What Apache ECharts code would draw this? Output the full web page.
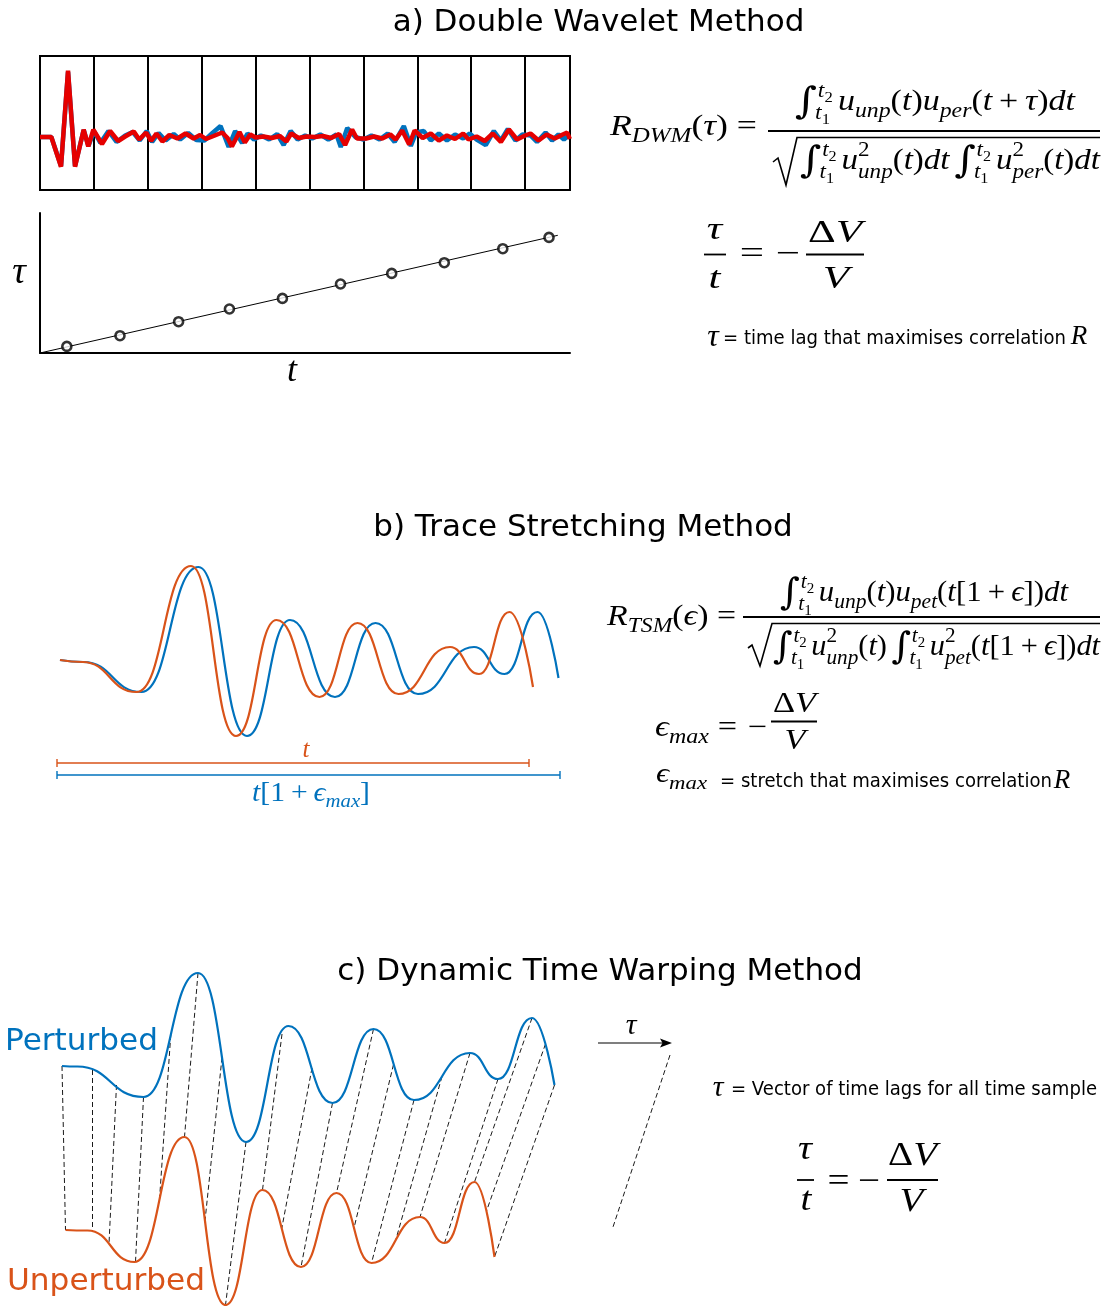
<!DOCTYPE html>
<html><head><meta charset="utf-8">
<script src="https://cdn.jsdelivr.net/npm/echarts@6/dist/echarts.min.js"></script>
<style>html,body{margin:0;padding:0;background:#fff}#c{width:1114px;height:1306px}</style>
</head><body><div id="c"></div>
<script>
// ---------------- DATA ----------------
// a) windows: [time in window units, amplitude]
const windowRed = [[0,0],[0.21,0],[0.39,-2.97],[0.52,6.63],[0.65,-2.97],[0.81,0.73],[0.895,-0.93],[0.99,0.73],
 [1.15,-0.7],[1.3,0.6],[1.45,-0.4],[1.58,0.05],[1.74,0.55],[1.84,-0.25],[1.97,0.45],
 [2.06,-0.4],[2.16,0.35],[2.27,-0.45],[2.4,0.2],[2.55,-0.15],[2.7,0.35],[2.85,-0.15],[2.97,0.2],
 [3.08,-0.2],[3.22,0.1],[3.38,0.45],[3.48,-0.1],[3.56,-0.95],[3.7,0.5],[3.8,-0.55],[3.9,0.25],[4.0,-0.05],
 [4.15,0.05],[4.3,-0.1],[4.45,0.1],[4.57,-0.45],[4.66,0.35],[4.8,-0.1],[4.95,0.05],
 [5.1,0],[5.25,0.1],[5.4,-0.1],[5.55,0.3],[5.66,-0.8],[5.79,0.75],[5.88,-0.15],
 [6.05,-0.15],[6.2,0.05],[6.35,-0.15],[6.5,0.25],[6.6,-0.25],[6.72,0.65],[6.85,-0.75],[6.95,0.65],[7.1,-0.1],
 [7.25,0.35],[7.4,-0.35],[7.55,0.15],[7.7,-0.2],[7.85,0.35],[7.95,-0.25],
 [8.1,0.05],[8.25,-0.4],[8.4,0.35],[8.55,-0.5],[8.7,0.75],[8.85,-0.25],[9.0,0.15],
 [9.1,0.35],[9.25,-0.35],[9.4,0.25],[9.55,-0.15],[9.7,0.25],[9.78,0.45],[9.83,-0.2]];
const windowBlue = [[0,0],[0.21,0],[0.39,-2.9],[0.52,6.5],[0.65,-2.9],[0.81,0.7],[0.9,-0.9],[1.0,0.6],
 [1.12,-0.6],[1.27,0.6],[1.42,-0.5],[1.58,0.15],[1.72,0.5],[1.85,-0.35],[1.98,0.6],
 [2.08,-0.5],[2.2,0.4],[2.33,-0.35],[2.48,0.3],[2.6,-0.25],[2.75,0.4],[2.9,-0.3],
 [3.05,-0.35],[3.2,0.4],[3.35,1.1],[3.5,-1.0],[3.62,0.6],[3.75,-0.6],[3.85,0.35],[3.97,-0.25],
 [4.1,0.15],[4.25,-0.25],[4.4,0.3],[4.52,-0.8],[4.65,0.6],[4.78,-0.25],[4.92,0.15],
 [5.05,-0.15],[5.2,0.25],[5.35,-0.25],[5.5,0.25],[5.58,-1.0],[5.7,0.9],[5.85,0],
 [6.0,-0.25],[6.15,0.15],[6.3,-0.25],[6.45,0.35],[6.58,-0.5],[6.75,1.1],[6.88,-0.9],[6.98,0.45],
 [7.12,0.6],[7.25,-0.35],[7.4,0.35],[7.55,-0.35],[7.7,0.25],[7.85,-0.15],[7.97,0.35],
 [8.1,-0.25],[8.27,-0.8],[8.42,0.6],[8.55,-0.35],[8.68,0.8],[8.82,-0.35],[8.95,0.25],
 [9.1,0.15],[9.22,-0.5],[9.38,0.45],[9.5,-0.35],[9.62,0.25],[9.72,-0.25],[9.8,0.15]];
// a) measured lag per window
const lagT   = [0.506,1.509,2.615,3.574,4.574,5.670,6.636,7.628,8.732,9.604];
const lagTau = [0.66,1.73,3.13,4.40,5.46,6.90,7.96,9.03,10.43,11.56];
const lagFit = [[0,0],[9.77,11.77]];
// b) trace stretching: start, extrema, end [t, u]
const stretchUnp = [[0,0],[0.45,-0.02],[1.53,-0.32],[2.62,0.94],[3.52,-0.76],[4.33,0.40],[5.19,-0.37],[5.95,0.37],[6.77,-0.34],[7.80,0.13],[8.38,-0.14],[8.99,0.48],[9.46,-0.27]];
const stretchPer = [[0,0],[0.47,-0.02],[1.63,-0.32],[2.77,0.93],[3.74,-0.76],[4.60,0.40],[5.50,-0.37],[6.31,0.37],[7.16,-0.34],[8.28,0.13],[8.89,-0.14],[9.55,0.48],[9.97,-0.18]];
const spanUnp = [[-0.06,-1.03],[9.38,-1.03]];
const spanPer = [[-0.06,-1.15],[10.0,-1.15]];
// c) dynamic time warping: start, extrema, end [t, u]
const dtwPer = [[1.24,2.40],[1.55,2.395],[2.87,2.09],[3.96,3.33],[4.92,1.64],[5.77,2.80],[6.65,2.03],[7.47,2.77],[8.28,2.06],[9.40,2.53],[9.96,2.27],[10.64,2.88],[11.09,2.21]];
const dtwUnp = [[1.31,0.76],[1.75,0.755],[2.69,0.44],[3.69,1.69],[4.51,0.01],[5.25,1.16],[6.02,0.39],[6.73,1.13],[7.43,0.43],[8.40,0.89],[8.89,0.63],[9.49,1.24],[9.89,0.49]];
const dtwLinks = [
 [[1.24,2.40],[1.31,0.76]],[[1.85,2.36],[1.85,0.745]],[[2.33,2.21],[2.18,0.62]],[[2.87,2.09],[2.71,0.44]],
 [[3.415,2.71],[3.19,1.065]],[[3.96,3.33],[3.69,1.69]],[[4.44,2.485],[4.10,0.85]],[[4.92,1.64],[4.51,0.01]],
 [[5.64,2.72],[5.25,1.16]],[[6.24,2.38],[5.635,0.775]],[[6.65,2.03],[6.02,0.39]],[[7.47,2.77],[6.73,1.13]],
 [[7.87,2.415],[7.08,0.78]],[[8.28,2.06],[7.43,0.43]],[[8.84,2.295],[7.915,0.66]],[[9.40,2.53],[8.40,0.89]],
 [[9.96,2.27],[8.89,0.63]],[[10.64,2.88],[9.49,1.24]],[[10.91,2.62],[9.73,0.95]],[[11.09,2.21],[9.89,0.49]]];

// ---------------- STYLE ----------------
const BLUE = '#0072BD', ORANGE = '#D95319', RED = '#E50000';
const MF = '"Liberation Serif","DejaVu Serif",serif';
const SF = '"DejaVu Sans",sans-serif';
const IF = '"DejaVu Serif",serif';

// --------- math text layout helpers ---------
const mc = document.createElement('canvas').getContext('2d');
function fnt(sz, it, fam) { return (it ? 'italic ' : '') + sz.toFixed(2) + 'px ' + (fam || MF); }
function tw(s, f) { mc.font = f; return mc.measureText(s).width; }
function lay(items, x, yb, sz, col, out) {
  let cx = x;
  for (const it of items) {
    if (typeof it === 'string' || it.r !== undefined) {
      const s = typeof it === 'string' ? it : it.r;
      const f = fnt(sz, typeof it === 'string');
      if (out) out.push({type:'text', x:cx, y:yb - 0.34*sz, silent:true,
        style:{text:s, font:f, fill:col, align:'left', verticalAlign:'middle'}});
      cx += tw(s, f);
    } else if (it.sp) { cx += it.sp*sz; }
    else if (it.sub) { cx += lay(it.sub, cx, yb + 0.22*sz, sz*0.7, col, out); }
    else if (it.sup) { cx += lay(it.sup, cx, yb - 0.4*sz, sz*0.7, col, out); }
    else if (it.ss) {
      const k = (it.k || 0)*sz;
      const a = lay(it.ss[0], cx + k, yb + 0.3*sz, sz*0.7, col, out);
      const b = lay(it.ss[1], cx, yb - 0.47*sz, sz*0.7, col, out);
      cx += Math.max(a + k, b);
    } else if (it.int) {
      const isz = sz*1.25, f = fnt(isz, false, IF), ib = yb + 0.12*sz;
      if (out) out.push({type:'text', x:cx, y:ib - 0.34*isz, silent:true,
        style:{text:'∫', font:f, fill:col, align:'left', verticalAlign:'middle'}});
      cx += tw('∫', f) + 0.02*sz;
    }
  }
  return cx - x;
}
const G = [];
function block(items, xL, xR, yb, sz, col) {
  const w = lay(items, 0, yb, sz, col, null);
  const ch = []; lay(items, 0, yb, sz, col, ch);
  G.push({type:'group', x:xL, y:0, scaleX:(xR - xL)/w, children:ch});
}
function blockC(items, xc, yb, sz, sx, col) {
  const w = lay(items, 0, yb, sz, col, null);
  const ch = []; lay(items, 0, yb, sz, col, ch);
  G.push({type:'group', x:xc - w*sx/2, y:0, scaleX:sx, children:ch});
}
function natW(items, sz) { return lay(items, 0, 0, sz, '#000', null); }
function plain(s, xL, xR, yc, sz, col) {
  const f = sz + 'px ' + SF, w = tw(s, f);
  G.push({type:'group', x:xL, y:0, scaleX: xR ? (xR - xL)/w : 1, children:[
    {type:'text', x:0, y:yc, silent:true, style:{text:s, font:f, fill:col, align:'left', verticalAlign:'middle'}}]});
}
function hline(x1, x2, y, lw, col) {
  G.push({type:'line', silent:true, shape:{x1:x1, y1:y, x2:x2, y2:y}, style:{stroke:col || '#000', lineWidth:lw || 1.8}});
}
function poly(pts, lw) {
  G.push({type:'polyline', silent:true, shape:{points:pts}, style:{stroke:'#000', fill:null, lineWidth:lw || 1.6, lineJoin:'miter'}});
}
function title(s, xc, yc) {
  G.push({type:'text', x:xc, y:yc, silent:true, style:{text:s, font:'31px ' + SF, fill:'#000', align:'center', verticalAlign:'middle'}});
}
const K = '#000';
const LIM = {ss:[['t',{sub:[{r:'1'}]}],['t',{sub:[{r:'2'}]}]], k:-0.08};
const INT = {int:true};

// ---- titles
title('a) Double Wavelet Method', 598.5, 23);
title('b) Trace Stretching Method', 583, 528);
title('c) Dynamic Time Warping Method', 600, 972);

// ---- a) formulas
block(['R',{sub:['DWM']},{r:'('},'τ',{r:')'},{sp:0.25},{r:'='}], 610, 757, 137, 29, K);
block([INT, LIM, {sp:0.15}, 'u',{sub:['unp']},{r:'('},'t',{r:')'},'u',{sub:['per']},{r:'('},'t',{sp:0.2},{r:'+'},{sp:0.2},'τ',{r:')'},'dt'], 795, 1075, 112, 29, K);
hline(768, 1100, 131, 1.8);
poly([[773,162],[778,158],[786,185],[797,137.5],[1100,137.5]], 1.6);
block([INT, LIM, {sp:0.15}, 'u',{ss:[['unp'],[{r:'2'}]]},{r:'('},'t',{r:')'},'dt',{sp:0.15}, INT, LIM, {sp:0.15}, 'u',{ss:[['per'],[{r:'2'}]]},{r:'('},'t',{r:')'},'dt'], 800, 1100, 171, 29, K);

const dvA = 54/natW([{r:'Δ'},'V'], 31);
blockC(['τ'], 714.5, 241, 31, dvA, K);
blockC(['t'], 714.5, 290, 31, dvA, K);
hline(704, 726, 254.5, 1.8);
blockC([{r:'='}], 752, 265, 31, dvA, K);
blockC([{r:'−'}], 788, 265, 31, dvA, K);
hline(806, 864, 254.5, 1.8);
blockC([{r:'Δ'},'V'], 835, 244, 31, dvA, K);
blockC(['V'], 836, 290, 31, dvA, K);

blockC(['τ'], 713, 348, 32, 1, K);
plain('= time lag that maximises correlation', 723, 1066, 339, 19, K);
blockC(['R'], 1079, 346, 27, 1, K);

// axis labels of lag plot
blockC(['τ'], 19, 286, 38, 1, K);
blockC(['t'], 292, 384, 36, 1, K);

// ---- b) formulas
block(['R',{sub:['TSM']},{r:'('},'ϵ',{r:')'},{sp:0.25},{r:'='}], 607, 736, 627, 29, K);
block([INT, LIM, {sp:0.15}, 'u',{sub:['unp']},{r:'('},'t',{r:')'},'u',{sub:['pet']},{r:'('},'t',{r:'[1'},{sp:0.2},{r:'+'},{sp:0.2},'ϵ',{r:'])'},'dt'], 780, 1068, 603, 29, K);
hline(743, 1100, 617, 1.8);
poly([[748,648],[752,645],[760,666],[772,623.5],[1100,623.5]], 1.6);
block([INT, LIM, {sp:0.15}, 'u',{ss:[['unp'],[{r:'2'}]]},{r:'('},'t',{r:')'},{sp:0.15}, INT, LIM, {sp:0.15}, 'u',{ss:[['pet'],[{r:'2'}]]},{r:'('},'t',{r:'[1'},{sp:0.2},{r:'+'},{sp:0.2},'ϵ',{r:'])'},'dt'], 773, 1100, 657, 29, K);

const dvB = 43/natW([{r:'Δ'},'V'], 29);
blockC(['ϵ',{sub:['max']}], 682, 738, 29, dvB, K);
blockC([{r:'='}], 727.5, 738.5, 29, dvB, K);
blockC([{r:'−'}], 757.5, 738.5, 29, dvB, K);
hline(771, 817, 721.5, 1.8);
blockC([{r:'Δ'},'V'], 794.5, 714, 29, dvB, K);
blockC(['V'], 795, 751, 29, dvB, K);

block(['ϵ',{sub:['max']}], 656, 707, 784, 28, K);
plain('= stretch that maximises correlation', 720, 1052, 782, 19, K);
blockC(['R'], 1062, 790, 27, 1, K);

blockC(['t'], 306, 759, 25, 1, ORANGE);
block(['t',{r:'[1'},{sp:0.2},{r:'+'},{sp:0.2},'ϵ',{sub:['max']},{r:']'}], 252, 370, 803, 27, BLUE);

// ---- c) labels and formulas
plain('Perturbed', 5, 158, 1042, 31, BLUE);
plain('Unperturbed', 7, 205, 1282, 31, ORANGE);
hline(598, 664, 1043, 1.2);
G.push({type:'polygon', silent:true, shape:{points:[[672,1043],[660,1038.5],[662.5,1043],[660,1047.5]]}, style:{fill:'#000'}});
blockC(['τ'], 631, 1036, 30, 1, K);
G.push({type:'line', silent:true, shape:{x1:670, y1:1055, x2:613, y2:1227}, style:{stroke:'#000', lineWidth:0.9, lineDash:[5,3]}});
blockC(['τ'], 718, 1098, 30, 1, K);
plain('= Vector of time lags for all time sample', 731, 1097, 1090, 19, K);

const dvC = 49/natW([{r:'Δ'},'V'], 33);
blockC(['τ'], 805, 1162, 33, dvC, K);
blockC(['t'], 806, 1213, 33, dvC, K);
hline(797, 814, 1180, 1.8);
blockC([{r:'='}], 838.5, 1194, 33, dvC, K);
blockC([{r:'−'}], 869, 1194, 33, dvC, K);
hline(887, 938, 1180, 1.8);
blockC([{r:'Δ'},'V'], 912.5, 1168, 33, dvC, K);
blockC(['V'], 911.5, 1214, 33, dvC, K);

// ---------------- CHART ----------------
const hidden = {show:false};
const noAxis = {axisLine:hidden, axisTick:hidden, axisLabel:hidden, splitLine:hidden};
const wave = (data, xi, col) => ({type:'line', xAxisIndex:xi, yAxisIndex:xi, data:data, smooth:0.5, smoothMonotone:'x',
  showSymbol:false, silent:true, clip:false, lineStyle:{color:col, width:2.2}});
const option = {
  animation:false,
  backgroundColor:'#fff',
  grid:[
    {left:40, top:56, width:530, height:134, show:true, borderColor:'#000', borderWidth:2, backgroundColor:'transparent'},
    {left:40, top:213, width:530, height:140},
    {left:55, top:560, width:515, height:220},
    {left:0, top:960, width:600, height:346}
  ],
  xAxis:[
    Object.assign({gridIndex:0, type:'value', min:0, max:9.833, interval:1}, noAxis, {splitLine:{show:true, lineStyle:{color:'#000', width:2}}}),
    Object.assign({gridIndex:1, type:'value', min:0, max:10}, noAxis, {axisLine:{show:true, onZero:false, lineStyle:{color:'#000', width:2}}}),
    {gridIndex:2, type:'value', min:-0.1, max:10.2, show:false},
    {gridIndex:3, type:'value', min:0, max:12, show:false}
  ],
  yAxis:[
    {gridIndex:0, type:'value', min:-5.3, max:8.1, show:false},
    Object.assign({gridIndex:1, type:'value', min:0, max:14}, noAxis, {axisLine:{show:true, onZero:false, lineStyle:{color:'#000', width:2}}}),
    {gridIndex:2, type:'value', min:-1.2, max:1.0, show:false},
    {gridIndex:3, type:'value', min:0, max:3.46, show:false}
  ],
  series:[
    {type:'line', xAxisIndex:0, yAxisIndex:0, data:windowBlue, showSymbol:false, silent:true, lineStyle:{color:BLUE, width:4.5}, z:2},
    {type:'line', xAxisIndex:0, yAxisIndex:0, data:windowRed, showSymbol:false, silent:true, lineStyle:{color:RED, width:4.5}, z:3},
    {type:'line', xAxisIndex:1, yAxisIndex:1, data:lagFit, showSymbol:false, silent:true, lineStyle:{color:'#000', width:1}},
    {type:'scatter', xAxisIndex:1, yAxisIndex:1, data:lagT.map((t,i)=>[t, lagTau[i]]), symbol:'circle', symbolSize:9, silent:true,
      itemStyle:{color:'#fff', borderColor:'#000', borderWidth:2.6}, z:4},
    wave(stretchPer, 2, BLUE),
    wave(stretchUnp, 2, ORANGE),
    {type:'line', xAxisIndex:2, yAxisIndex:2, data:spanUnp, symbol:'rect', symbolSize:[1.4,8], showSymbol:true, silent:true, clip:false,
      lineStyle:{color:ORANGE, width:1.3}, itemStyle:{color:ORANGE}},
    {type:'line', xAxisIndex:2, yAxisIndex:2, data:spanPer, symbol:'rect', symbolSize:[1.4,8], showSymbol:true, silent:true, clip:false,
      lineStyle:{color:BLUE, width:1.3}, itemStyle:{color:BLUE}},
    wave(dtwPer, 3, BLUE),
    wave(dtwUnp, 3, ORANGE),
    {type:'lines', coordinateSystem:'cartesian2d', xAxisIndex:3, yAxisIndex:3, silent:true, z:1,
      data:dtwLinks.map(c => ({coords:c})), lineStyle:{color:'#000', width:0.9, type:[5,3], opacity:1}}
  ],
  graphic:{elements:G}
};
const chart = echarts.init(document.getElementById('c'), null, {renderer:'canvas'});
chart.setOption(option);
</script></body></html>
